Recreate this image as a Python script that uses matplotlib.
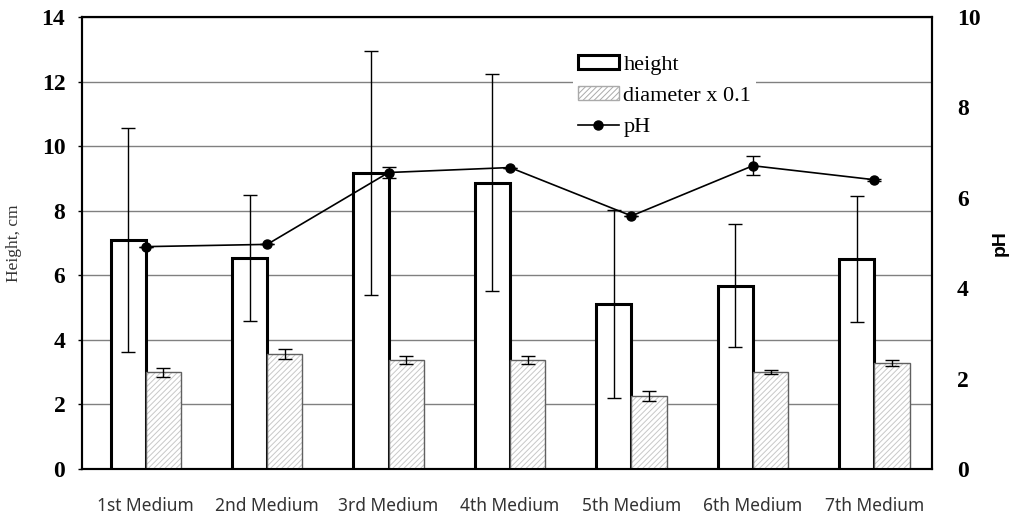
import numpy as np
import matplotlib.pyplot as plt
from matplotlib.patches import Patch
from matplotlib.lines import Line2D

media = ['1st Medium', '2nd Medium', '3rd Medium', '4th Medium',
         '5th Medium', '6th Medium', '7th Medium']
height = [7.09, 6.53, 9.17, 8.86, 5.11, 5.68, 6.50]
height_err = [3.48, 1.95, 3.77, 3.36, 2.92, 1.90, 1.95]
diameter = [2.99, 3.57, 3.38, 3.38, 2.26, 3.00, 3.28]
diameter_err = [0.15, 0.15, 0.13, 0.13, 0.15, 0.06, 0.09]
ph = [4.92, 4.97, 6.56, 6.67, 5.60, 6.71, 6.40]
ph_err = [0, 0, 0.13, 0, 0, 0.21, 0.02]

x = np.arange(len(media))
w = 0.29

plt.rcParams['hatch.linewidth'] = 0.7
fig = plt.figure(figsize=(10.1, 5.19), dpi=100)
ax = fig.add_axes([0.0812, 0.0963, 0.8416, 0.8709])

# height bars (white with thick black edge)
ax.bar(x - w / 2, height, w, color='white', edgecolor='black', lw=2.2, zorder=3)
ax.errorbar(x - w / 2, height, yerr=height_err, fmt='none', ecolor='black',
            elinewidth=1, capsize=5, capthick=1, zorder=5)

# diameter bars (hatched grey)
ax.bar(x + w / 2, diameter, w, color='white', edgecolor='#c8c8c8', hatch='//////',
       lw=0, zorder=3)
ax.bar(x + w / 2, diameter, w, color='none', edgecolor='#606060', lw=1, zorder=3)
ax.errorbar(x + w / 2, diameter, yerr=diameter_err, fmt='none', ecolor='black',
            elinewidth=1, capsize=5, capthick=1, zorder=5)

ax.set_xlim(-0.525, 6.475)
ax.set_ylim(0, 14)
ax.set_yticks(range(0, 15, 2))
ax.yaxis.grid(True, color='#808080', lw=1)
ax.set_axisbelow(True)
ax.set_xticks(x)
ax.set_xticklabels(media, fontsize=12.5, family='Noto Sans', color='#333333')
ax.tick_params(axis='x', length=0, pad=20)
ax.tick_params(axis='y', length=3, width=1, pad=9)
for lab in ax.get_yticklabels():
    lab.set_fontfamily('Liberation Serif')
    lab.set_fontweight('bold')
    lab.set_fontsize(17)
ax.set_ylabel('Height, cm', family='Liberation Serif', fontsize=12.5,
              color='#333333', labelpad=14)
for s in ax.spines.values():
    s.set_linewidth(1.5)

# pH line on right axis
ax2 = ax.twinx()
ax2.errorbar(x, ph, yerr=ph_err, color='black', lw=1.2, marker='o',
             markersize=6.5, elinewidth=1, capsize=5, capthick=1, zorder=6)
ax2.set_ylim(0, 10)
ax2.set_yticks(range(0, 11, 2))
ax2.tick_params(axis='y', length=0, pad=18)
for lab in ax2.get_yticklabels():
    lab.set_fontfamily('Liberation Serif')
    lab.set_fontweight('bold')
    lab.set_fontsize(17)
ax2.set_ylabel('pH', family='Liberation Sans', fontweight='bold', fontsize=14,
               labelpad=8)
for s in ax2.spines.values():
    s.set_linewidth(1.5)

handles = [
    Patch(facecolor='white', edgecolor='black', lw=2.2),
    Patch(facecolor='white', edgecolor='#aaaaaa', hatch='//////', lw=1),
    Line2D([], [], color='black', lw=1.2, marker='o', markersize=6.5),
]
leg = ax2.legend(handles, ['height', 'diameter x 0.1', 'pH'],
                 loc='upper left', bbox_to_anchor=(0.565, 0.95),
                 frameon=True, framealpha=1, edgecolor='white',
                 prop={'family': 'Liberation Serif', 'size': 16},
                 handlelength=1.85, handleheight=0.6, handletextpad=0.2,
                 labelspacing=0.5, borderpad=0.2, fancybox=False)
leg.get_frame().set_linewidth(0)

fig.savefig('out.png', dpi=100)
